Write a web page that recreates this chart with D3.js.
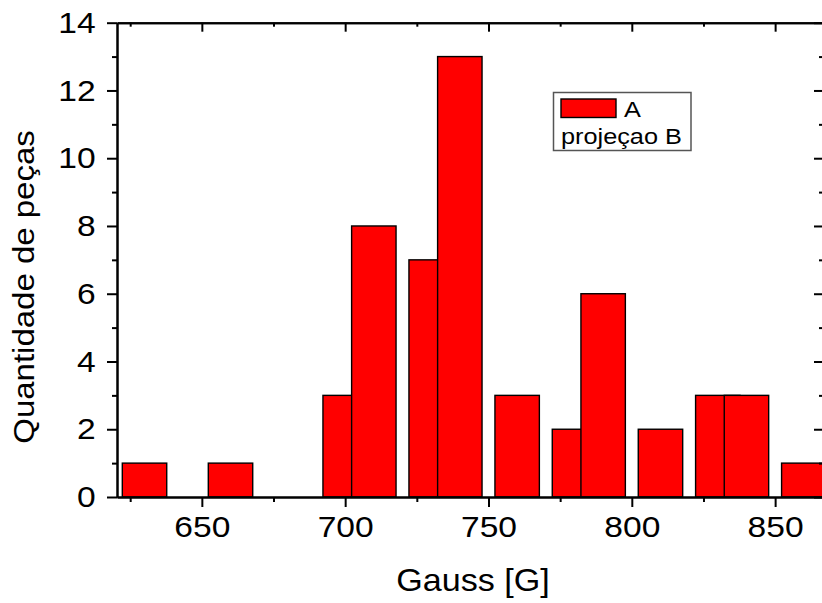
<!DOCTYPE html>
<html>
<head>
<meta charset="utf-8">
<script src="https://cdn.jsdelivr.net/npm/d3@7.9.0/dist/d3.min.js"></script>
<style>
  body { margin: 0; background: #fff; }
  svg text { font-family: "Liberation Sans", Arial, sans-serif; fill: #000; }
</style>
</head>
<body>
<svg id="chart" width="822" height="603"></svg>
<script>
// bin centres (Gauss) and counts
const binCenters = [630, 660, 700, 710, 730, 740, 760, 780, 790, 810, 830, 840, 860];
const counts = [1, 1, 3, 8, 7, 13, 3, 2, 6, 2, 3, 3, 1];
const binWidth = 15.5;
const xTicks = [650, 700, 750, 800, 850];
const xMinor = [625, 675, 725, 775, 825];
const yTicks = [0, 2, 4, 6, 8, 10, 12, 14];
const yMinor = [1, 3, 5, 7, 9, 11, 13];
const legendLabels = ['A', 'projeçao B'];

const svg = d3.select('#chart');
const plotLeft = 117, plotRight = 823, plotTop = 22.7, plotBottom = 497;

const x = d3.scaleLinear().domain([620.4, 866.7]).range([plotLeft, plotRight]);
const y = d3.scaleLinear().domain([0, 14]).range([plotBottom, plotTop]);

// bars, clipped to the frame
svg.append('clipPath').attr('id', 'clip')
  .append('rect')
  .attr('x', plotLeft).attr('y', plotTop)
  .attr('width', plotRight - plotLeft).attr('height', plotBottom - plotTop);

const bins = binCenters.map((c, i) => ({ c: c, n: counts[i] }));
svg.append('g').attr('clip-path', 'url(#clip)')
  .selectAll('rect')
  .data(bins)
  .join('rect')
  .attr('x', d => x(d.c - binWidth / 2))
  .attr('width', d => x(d.c + binWidth / 2) - x(d.c - binWidth / 2))
  .attr('y', d => y(d.n))
  .attr('height', d => y(0) - y(d.n))
  .attr('fill', '#ff0000')
  .attr('stroke', '#000')
  .attr('stroke-width', 1.4);

function styleAxis(g) {
  g.select('.domain').attr('stroke', '#000').attr('stroke-width', 2);
  g.selectAll('.tick line').attr('stroke', '#000').attr('stroke-width', 2);
}

// bottom axis
const xAxis = svg.append('g').attr('transform', `translate(0,${plotBottom})`)
  .call(d3.axisBottom(x).tickValues(xTicks).tickSize(10).tickSizeOuter(0).tickPadding(9))
  .call(styleAxis);
xAxis.selectAll('text').attr('font-size', 30).attr('transform', 'scale(1.12,1)');
svg.append('g').attr('transform', `translate(0,${plotBottom})`)
  .call(d3.axisBottom(x).tickValues(xMinor).tickSize(5).tickSizeOuter(0).tickFormat(''))
  .call(styleAxis);

// left axis
const yAxis = svg.append('g').attr('transform', `translate(${plotLeft},0)`)
  .call(d3.axisLeft(y).tickValues(yTicks).tickSize(10).tickSizeOuter(0).tickPadding(9))
  .call(styleAxis);
yAxis.selectAll('text').attr('font-size', 30).attr('transform', 'scale(1.12,1)');
svg.append('g').attr('transform', `translate(${plotLeft},0)`)
  .call(d3.axisLeft(y).tickValues(yMinor).tickSize(5).tickSizeOuter(0).tickFormat(''))
  .call(styleAxis);

// top and right frame, ticks pointing inward
svg.append('g').attr('transform', `translate(0,${plotTop})`)
  .call(d3.axisTop(x).tickValues(xTicks).tickSize(-9).tickSizeOuter(0).tickFormat(''))
  .call(styleAxis);
svg.append('g').attr('transform', `translate(0,${plotTop})`)
  .call(d3.axisTop(x).tickValues(xMinor).tickSize(-4).tickSizeOuter(0).tickFormat(''))
  .call(styleAxis);
svg.append('g').attr('transform', `translate(${plotRight},0)`)
  .call(d3.axisRight(y).tickValues(yTicks).tickSize(-9).tickSizeOuter(0).tickFormat(''))
  .call(styleAxis);
svg.append('g').attr('transform', `translate(${plotRight},0)`)
  .call(d3.axisRight(y).tickValues(yMinor).tickSize(-4).tickSizeOuter(0).tickFormat(''))
  .call(styleAxis);

// axis titles
svg.append('text')
  .attr('transform', 'translate(473,591) scale(1.1,1)')
  .attr('text-anchor', 'middle')
  .attr('font-size', 31)
  .text('Gauss [G]');
svg.append('text')
  .attr('transform', 'translate(34,287) rotate(-90) scale(1.1,1)')
  .attr('text-anchor', 'middle')
  .attr('font-size', 30)
  .text('Quantidade de peças');

// legend
const lg = svg.append('g');
lg.append('rect')
  .attr('x', 553.5).attr('y', 92.5).attr('width', 137.5).attr('height', 58)
  .attr('fill', '#fff').attr('stroke', '#555').attr('stroke-width', 1.5);
lg.append('rect')
  .attr('x', 561).attr('y', 99).attr('width', 55).attr('height', 18.5)
  .attr('fill', '#ff0000').attr('stroke', '#000').attr('stroke-width', 1.4);
lg.append('text')
  .attr('transform', 'translate(624,116.5) scale(1.15,1)')
  .attr('font-size', 22)
  .text(legendLabels[0]);
lg.append('text')
  .attr('transform', 'translate(561,144) scale(1.15,1)')
  .attr('font-size', 22)
  .text(legendLabels[1]);
</script>
</body>
</html>
